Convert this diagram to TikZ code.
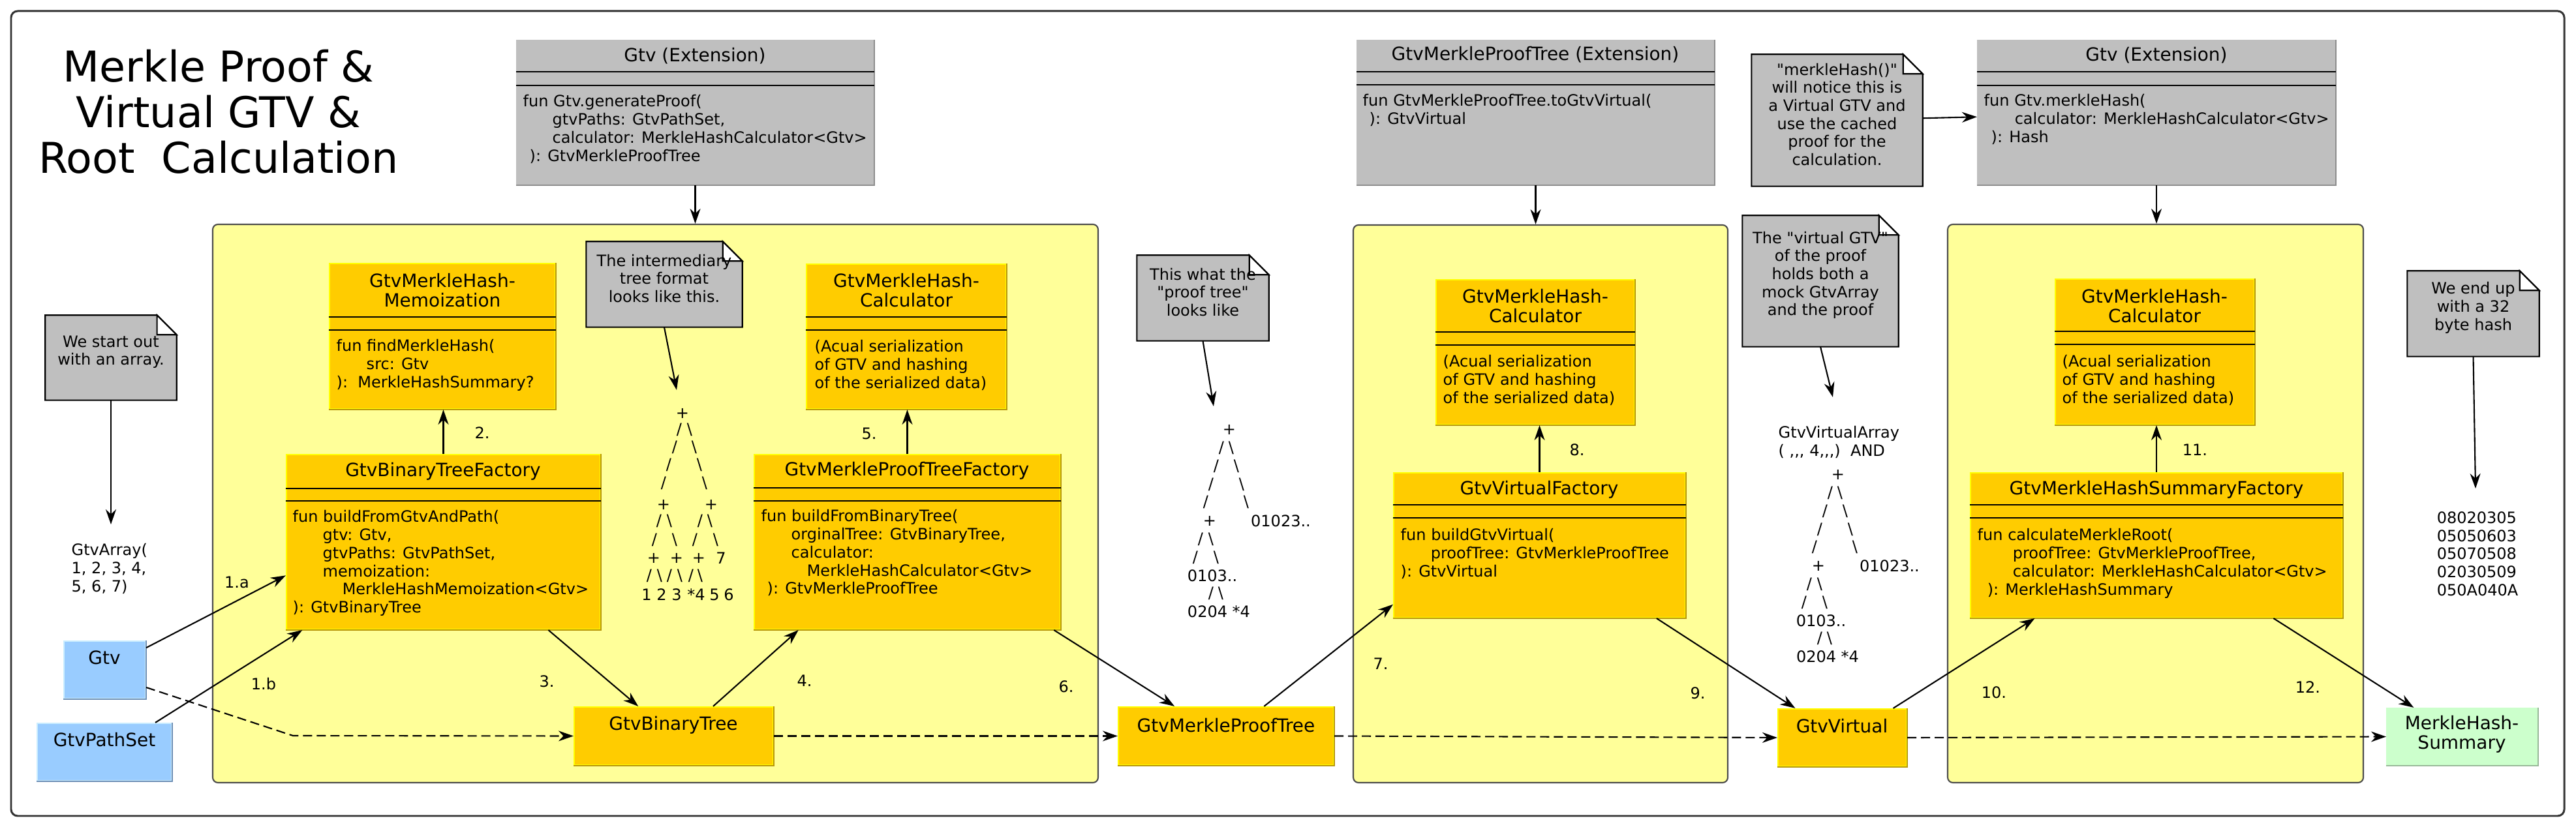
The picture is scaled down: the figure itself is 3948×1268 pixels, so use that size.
\documentclass[tikz,border=0pt]{standalone}
\usepackage{fontspec}
\setmainfont{DejaVu Sans}[Ligatures=TeXOff]
\usetikzlibrary{arrows.meta,fit,positioning}

\pgfdeclarelayer{bg}
\pgfsetlayers{bg,main}

\definecolor{clsfill}{HTML}{FFCC00}
\definecolor{clslight}{HTML}{FFFF00}
\definecolor{clsdark}{HTML}{B8960A}
\definecolor{extfill}{HTML}{BFBFBF}
\definecolor{extdark}{HTML}{8C8C8C}
\definecolor{valfill}{HTML}{99CCFF}
\definecolor{vallight}{HTML}{CCEEFF}
\definecolor{valdark}{HTML}{6D8FB5}
\definecolor{sumfill}{HTML}{CCFFCC}
\definecolor{sumdark}{HTML}{99B899}
\definecolor{pkgfill}{HTML}{FFFF99}
\definecolor{notefill}{HTML}{BFBFBF}

\newcommand{\bodyfont}{\fontsize{6.83pt}{7.88pt}\selectfont}
\newcommand{\headfont}{\fontsize{7.95pt}{8.55pt}\selectfont}
\newcommand{\titlefont}{\fontsize{18.5pt}{19.9pt}\selectfont}

\tikzset{
  outerframe/.style={draw=black!80, line width=0.85pt, rounded corners=0.1cm, inner sep=0pt},
  pkg/.style={fill=pkgfill, draw=black!70, line width=0.6pt, rounded corners=0.08cm, inner sep=0pt},
  klass/.style={fill=clsfill, draw=clslight, line width=0.6pt, inner sep=0pt},
  ext/.style={fill=extfill, draw=extfill, line width=0.6pt, inner sep=0pt},
  val/.style={fill=valfill, draw=vallight, line width=0.6pt, inner sep=0pt},
  summ/.style={fill=sumfill, draw=sumfill, line width=0.6pt, inner sep=0pt},
  note/.style={inner sep=0pt, align=center},
  notebox/.style={fill=notefill, draw=black, line width=0.6pt},
  head/.style={font=\headfont, align=center, inner sep=0pt},
  body/.style={anchor=north west, align=left, inner sep=0pt},
  plain/.style={inner sep=0pt},
  glyph/.style={inner sep=0pt},
  divider/.style={line width=0.6pt},
  arr/.style={-{Stealth[length=0.23cm, width=0.16cm]}, line width=0.6pt},
  dataflow/.style={arr, dash pattern=on 0.14cm off 0.07cm},
}

\begin{document}
\begin{tikzpicture}[x=0.01cm, y=-0.01cm, font=\bodyfont]
\useasboundingbox (0,0) rectangle (3948,1268);

% frame and the three packages
\begin{pgfonlayer}{bg}
  \node[outerframe, fit={(17,17) (3930,1251)}] (frame) {};
  \node[pkg, fit={(326,344) (1683,1200)}] (cont1) {};
  \node[pkg, fit={(2074,345) (2648,1200)}] (cont2) {};
  \node[pkg, fit={(2985,344) (3622,1200)}] (cont3) {};
\end{pgfonlayer}

% title
\node[font=\titlefont, align=center, inner sep=0pt] (title) at (335,171)
  {Merkle Proof \&\\Virtual GTV \&\\Root\ \ Calculation};

% extension boxes
\node[ext, fit={(792,62) (1339,283)}] (ext1) {};
\node[ext, fit={(2080,62) (2627,283)}] (ext2) {};
\node[ext, fit={(3031,62) (3579,283)}] (ext3) {};

% classes
\node[klass, fit={(505,404) (851,627)}] (memo) {};
\node[klass, fit={(439,697) (920,965)}] (btf) {};
\node[klass, fit={(1236,405) (1542,627)}] (calc1) {};
\node[klass, fit={(1156,697) (1625,965)}] (mptf) {};
\node[klass, fit={(880,1084) (1185,1173)}] (bt) {};
\node[klass, fit={(1714,1084) (2044,1173)}] (mpt) {};
\node[klass, fit={(2201,429) (2505,651)}] (calc2) {};
\node[klass, fit={(2136,725) (2583,947)}] (vf) {};
\node[klass, fit={(2725,1087) (2922,1175)}] (gv) {};
\node[klass, fit={(3150,428) (3455,651)}] (calc3) {};
\node[klass, fit={(3020,725) (3590,947)}] (mhsf) {};

% values in and out
\node[val, fit={(98,983) (223,1071)}] (gtv) {};
\node[val, fit={(57,1109) (263,1197)}] (gps) {};
\node[summ, fit={(3658,1086) (3889,1173)}] (mhs) {};

% darker lower right edges
\foreach \n/\c in {ext1/extdark, ext2/extdark, ext3/extdark, memo/clsdark, btf/clsdark,
    calc1/clsdark, mptf/clsdark, bt/clsdark, mpt/clsdark, calc2/clsdark, vf/clsdark,
    gv/clsdark, calc3/clsdark, mhsf/clsdark, gtv/valdark, gps/valdark, mhs/sumdark}
  \draw[\c, line width=0.6pt] (\n.south west) -- (\n.south east) -- (\n.north east);

% compartments
\foreach \n/\a/\b in {ext1/110/131, ext2/110/130, ext3/110/131, memo/486/506, btf/749/768,
    calc1/486/506, mptf/748/768, calc2/509/529, vf/774/794, calc3/508/528, mhsf/774/794} {
  \draw[divider] (\n.west |- 0,\a) -- (\n.east |- 0,\a);
  \draw[divider] (\n.west |- 0,\b) -- (\n.east |- 0,\b);
}

% class names
\node[head] (ext1t) at (1065,86) {Gtv (Extension)};
\node[head] (ext2t) at (2353,84) {GtvMerkleProofTree (Extension)};
\node[head] (ext3t) at (3305,85) {Gtv (Extension)};
\node[head] (memot) at (678,445) {GtvMerkleHash-\\Memoization};
\node[head] (btft) at (679,723) {GtvBinaryTreeFactory};
\node[head] (calc1t) at (1389,445) {GtvMerkleHash-\\Calculator};
\node[head] (mptft) at (1390,722) {GtvMerkleProofTreeFactory};
\node[head] (btt) at (1032,1112) {GtvBinaryTree};
\node[head] (mptt) at (1879,1112) {GtvMerkleProofTree};
\node[head] (calc2t) at (2353,469) {GtvMerkleHash-\\Calculator};
\node[head] (vft) at (2359,751) {GtvVirtualFactory};
\node[head] (gvt) at (2823,1113) {GtvVirtual};
\node[head] (calc3t) at (3302,469) {GtvMerkleHash-\\Calculator};
\node[head] (mhsft) at (3305,751) {GtvMerkleHashSummaryFactory};
\node[head] (gtvt) at (160,1008) {Gtv};
\node[head] (gpst) at (160,1134) {GtvPathSet};
\node[head] (mhst) at (3773,1126) {MerkleHash-\\Summary};

% operations
\node[body] (ext1b) at (801,145) {fun Gtv.generateProof(\\
  \hspace*{0.45cm}gtvPaths: GtvPathSet,\\
  \hspace*{0.45cm}calculator: MerkleHashCalculator<Gtv>\\
  \hspace*{0.1cm}): GtvMerkleProofTree};
\node[body] (ext2b) at (2088,144) {fun GtvMerkleProofTree.toGtvVirtual(\\
  \hspace*{0.1cm}): GtvVirtual};
\node[body] (ext3b) at (3040,144) {fun Gtv.merkleHash(\\
  \hspace*{0.47cm}calculator: MerkleHashCalculator<Gtv>\\
  \hspace*{0.11cm}): Hash};
\node[body] (memob) at (515,520) {fun findMerkleHash(\\
  \hspace*{0.46cm}src: Gtv\\
  ):\ \ MerkleHashSummary?};
\node[body] (btfb) at (448,782) {fun buildFromGtvAndPath(\\
  \hspace*{0.46cm}gtv: Gtv,\\
  \hspace*{0.46cm}gtvPaths: GtvPathSet,\\
  \hspace*{0.46cm}memoization:\\
  \hspace*{0.76cm}MerkleHashMemoization<Gtv>\\
  ): GtvBinaryTree};
\node[body] (calc1b) at (1248,521) {(Acual serialization\\of GTV and hashing\\of the serialized data)};
\node[body] (mptfb) at (1166,781) {fun buildFromBinaryTree(\\
  \hspace*{0.46cm}orginalTree: GtvBinaryTree,\\
  \hspace*{0.46cm}calculator:\\
  \hspace*{0.70cm}MerkleHashCalculator<Gtv>\\
  \hspace*{0.09cm}): GtvMerkleProofTree};
\node[body] (calc2b) at (2211,544) {(Acual serialization\\of GTV and hashing\\of the serialized data)};
\node[body] (vfb) at (2146,810) {fun buildGtvVirtual(\\
  \hspace*{0.46cm}proofTree: GtvMerkleProofTree\\
  ): GtvVirtual};
\node[body] (calc3b) at (3160,544) {(Acual serialization\\of GTV and hashing\\of the serialized data)};
\node[body] (mhsfb) at (3030,810) {fun calculateMerkleRoot(\\
  \hspace*{0.54cm}proofTree: GtvMerkleProofTree,\\
  \hspace*{0.54cm}calculator: MerkleHashCalculator<Gtv>\\
  \hspace*{0.15cm}): MerkleHashSummary};

% notes
\node[note, fit={(70,484) (270,613)}] (nstart) {We start out\\with an array.};
\node[note, fit={(899,371) (1137,501)}] (ntree) {The intermediary\\tree format\\looks like this.};
\node[note, fit={(1743,392) (1944,522)}] (nproof) {This what the\\"proof tree"\\looks like};
\node[note, fit={(2685,84) (2946,285)}] (nmerkle) {"merkleHash()"\\will notice this is\\a Virtual GTV and\\use the cached\\proof for the\\calculation.};
\node[note, fit={(2671,331) (2909,531)}] (nvirt) {The "virtual GTV"\\of the proof\\holds both a\\mock GtvArray\\and the proof};
\node[note, fit={(3690,416) (3891,546)}] (nend) {We end up\\with a 32\\byte hash};
\begin{pgfonlayer}{bg}
  \foreach \n in {nstart, ntree, nproof, nmerkle, nvirt, nend} {
    \filldraw[notebox] (\n.north west) -- ([xshift=-0.3cm]\n.north east)
      -- ([yshift=-0.3cm]\n.north east) -- (\n.south east) -- (\n.south west) -- cycle;
    \filldraw[notebox, fill=white] ([xshift=-0.3cm]\n.north east)
      -- ([xshift=-0.3cm, yshift=-0.3cm]\n.north east) -- ([yshift=-0.3cm]\n.north east) -- cycle;
  }
\end{pgfonlayer}

% data texts
\node[body] (arr) at (109,833) {GtvArray(\\1, 2, 3, 4,\\5, 6, 7)};
\node[body] (varr) at (2725,653) {GtvVirtualArray\\( ,,, 4,,,)\ \ AND};
\node[body] (hex) at (3734,784) {08020305\\05050603\\05070508\\02030509\\050A040A};
\coordinate (arrtop) at (170,804);
\coordinate (t1top) at (1037,598);
\coordinate (t2top) at (1860,623);
\coordinate (varrtop) at (2809,609);
\coordinate (hextop) at (3794,749);

% intermediary tree
\foreach \x/\y [count=\i] in {1046/634, 1017/774, 1090/774, 1002/856, 1037/856, 1071/856}
  \node[glyph] (t1p\i) at (\x,\y) {+};
\foreach \x/\y [count=\i] in {1041/659, 1034/686, 1025/713, 1017/741, 1010/799, 1073/799,
    1003/828, 1065/828, 995/883, 1026/883, 1059/883}
  \node[glyph] (t1l\i) at (\x,\y) {/};
\foreach \x/\y [count=\i] in {1057/659, 1064/686, 1072/713, 1080/741, 1026/799, 1088/799,
    1034/828, 1097/828, 1011/883, 1042/883, 1073/883}
  \node[glyph] (t1r\i) at (\x,\y) {\textbackslash};
\foreach \x/\y/\t [count=\i] in {1105/856/7, 991/912/1, 1014/912/2, 1037/912/3, 1067/912/*4,
    1095/912/5, 1117/912/6}
  \node[glyph] (t1v\i) at (\x,\y) {\t};

% proof trees
\foreach \sx/\sy [count=\k] in {1884/659, 2817/728} {
  \begin{scope}[shift={(\sx,\sy)}]
    \foreach \x/\y [count=\i] in {0/0, -30/140}
      \node[glyph] (pt\k p\i) at (\x,\y) {+};
    \foreach \x/\y [count=\i] in {-12/28, -20/56, -28/84, -36/111, -44/168, -52/196, -28/251}
      \node[glyph] (pt\k l\i) at (\x,\y) {/};
    \foreach \x/\y [count=\i] in {3/28, 11/56, 19/84, 26/111, -28/168, -20/196, -13/251}
      \node[glyph] (pt\k r\i) at (\x,\y) {\textbackslash};
    \node[glyph] (pt\k h1) at (79,140) {01023..};
    \node[glyph] (pt\k h2) at (-26,224) {0103..};
    \node[glyph] (pt\k h3) at (-16,279) {0204 *4};
  \end{scope}
}

% step labels
\foreach \x/\y/\t [count=\i] in {363/893/1.a, 404/1049/1.b, 739/664/2., 838/1045/3.,
    1233/1044/4., 1332/665/5., 1634/1053/6., 2116/1018/7., 2417/690/8., 2602/1063/9.,
    3056/1062/10., 3364/690/11., 3537/1054/12.}
  \node[plain] (step\i) at (\x,\y) {\t};

% note arrows
\draw[arr] (nstart.south) -- (arrtop);
\draw[arr] (ntree.south) -- (t1top);
\draw[arr] (nproof.south) -- (t2top);
\draw[arr] (nmerkle) -- (ext3);
\draw[arr] (nvirt.south) -- (varrtop);
\draw[arr] (nend.south) -- (hextop);

% extension calls
\draw[arr] (ext1.south) -- (ext1.south |- cont1.north);
\draw[arr] (ext2.south) -- (ext2.south |- cont2.north);
\draw[arr] (ext3.south) -- (ext3.south |- cont3.north);

% steps
\draw[arr] (gtv.28) -- (btf.192);
\draw[arr] (gps.30) -- (btf.212);
\draw[arr] (btf.north) -- (btf.north |- memo.south);
\draw[arr] (btf.-40) -- (bt.140);
\draw[arr] (bt.37) -- (mptf.219);
\draw[arr] (mptf.north) -- (mptf.north |- calc1.south);
\draw[arr] (mptf.-31) -- (mpt.150);
\draw[arr] (mpt.38) -- (vf.202);
\draw[arr] (vf.north) -- (vf.north |- calc2.south);
\draw[arr] (vf.-32) -- (gv.148);
\draw[arr] (gv.30) -- (mhsf.211);
\draw[arr] (mhsf.north) -- (mhsf.north |- calc3.south);
\draw[arr] (mhsf.-32) -- (mhs.149);

% data passed along
\coordinate (bend) at (449,1128);
\draw[dataflow] (gtv.-23) -- (bend) -- (bt.west);
\draw[dataflow] (bt.east) -- (mpt.west);
\draw[dataflow] (mpt.east) -- (gv.west);
\draw[dataflow] (gv.east) -- (mhs.west);
\end{tikzpicture}
\end{document}
